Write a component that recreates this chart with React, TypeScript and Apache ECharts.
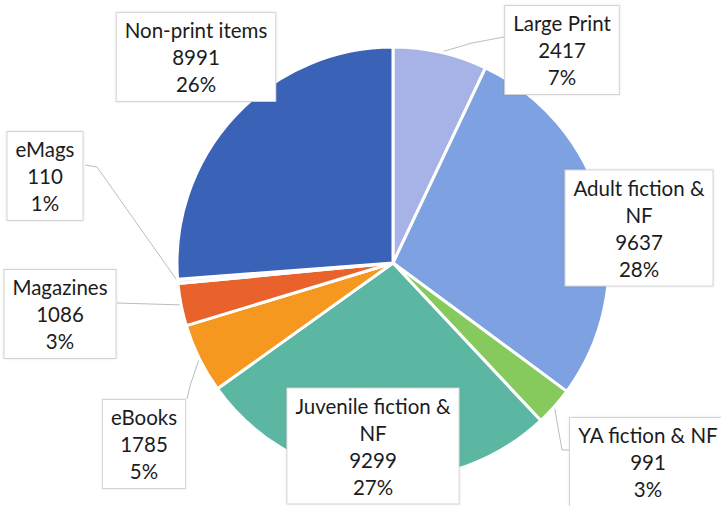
import React, { useEffect, useRef } from 'react';
import * as echarts from 'echarts';

// ---- data ----
const categories = [
  'Large Print',
  'Adult fiction & NF',
  'YA fiction & NF',
  'Juvenile fiction & NF',
  'eBooks',
  'Magazines',
  'eMags',
  'Non-print items',
];
const labelNames = [
  'Large Print',
  'Adult fiction &\nNF',
  'YA fiction & NF',
  'Juvenile fiction &\nNF',
  'eBooks',
  'Magazines',
  'eMags',
  'Non-print items',
];
const values = [2417, 9637, 991, 9299, 1785, 1086, 110, 8991];
const percentLabels = ['7%', '28%', '3%', '27%', '5%', '3%', '1%', '26%'];

// ---- styles / layout ----
const colors = ['#a7b3e6', '#7ea1e2', '#86c95c', '#5bb6a2', '#f6971f', '#e9622c', '#eef0f6', '#3a62b7'];
const labelCenters: number[][] = [
  [562, 50],
  [639, 228],
  [648, 462],
  [373, 446],
  [144, 444],
  [60, 314],
  [45, 176],
  [196, 57],
];
const leaderTails: (number[][] | null)[] = [
  [[472, 43], [504, 37]],
  null,
  [[562, 450], [572, 450]],
  null,
  [[190, 386], [187, 399]],
  [[150, 304], [117, 303]],
  [[97, 167], [85, 165]],
  null,
];

export default function App() {
  const ref = useRef<HTMLDivElement>(null);
  useEffect(() => {
    if (!ref.current) return;
    const chart = echarts.init(ref.current, undefined, { renderer: 'svg' });
    const data = categories.map((name, i) => ({
      name,
      value: values[i],
      itemStyle: { color: colors[i] },
      labelLine: { show: leaderTails[i] != null },
    }));
    chart.setOption({
      animation: false,
      backgroundColor: '#ffffff',
      series: [
        {
          type: 'pie',
          center: [393, 263],
          radius: 216,
          startAngle: 90,
          clockwise: true,
          avoidLabelOverlap: false,
          data,
          itemStyle: { borderColor: '#ffffff', borderWidth: 3 },
          label: {
            show: true,
            position: 'outside',
            formatter: (p: any) =>
              `${labelNames[p.dataIndex]}\n${values[p.dataIndex]}\n${percentLabels[p.dataIndex]}`,
            fontFamily: 'Lato',
            fontSize: 20.5,
            lineHeight: 27,
            color: '#1c1c1c',
            align: 'center',
            backgroundColor: '#ffffff',
            borderColor: '#d4d4d4',
            borderWidth: 1,
            padding: [4, 8, 3, 8],
            shadowColor: 'rgba(0,0,0,0.12)',
            shadowBlur: 2,
          },
          labelLine: {
            show: true,
            lineStyle: { color: '#bdbdbd', width: 1 },
          },
          labelLayout: (params: any) => {
            const i = params.dataIndex;
            const c = labelCenters[i];
            const out: any = { x: c[0], y: c[1], align: 'center', verticalAlign: 'middle' };
            const tail = leaderTails[i];
            if (tail && params.labelLinePoints && params.labelLinePoints[0]) {
              out.labelLinePoints = [params.labelLinePoints[0], tail[0], tail[1]];
            }
            return out;
          },
        },
      ],
    });
    return () => chart.dispose();
  }, []);
  return (
    <div
      ref={ref}
      style={{ position: 'fixed', left: 0, top: 0, width: 721, height: 506, background: '#fff' }}
    />
  );
}
